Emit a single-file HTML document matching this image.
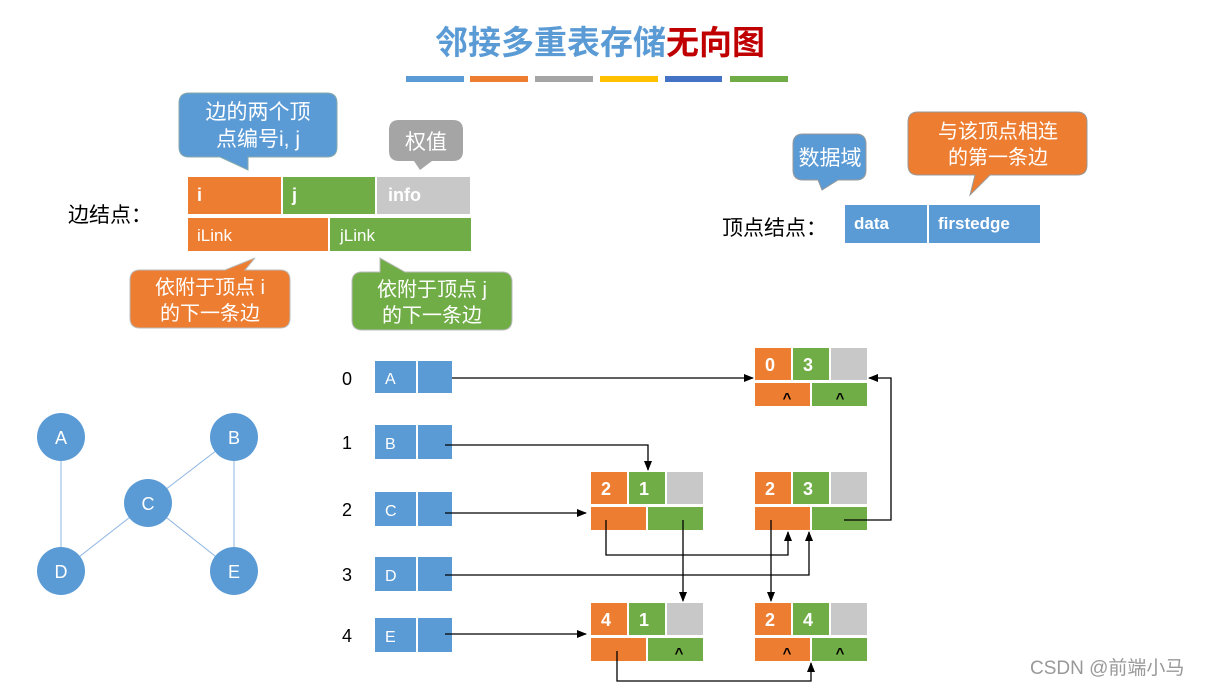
<!DOCTYPE html>
<html><head><meta charset="utf-8"><style>
html,body{margin:0;padding:0;background:#fff;}
svg{display:block;}
text{font-family:"Liberation Sans","Noto Sans CJK SC",sans-serif;}
</style></head><body>
<svg width="1211" height="687" viewBox="0 0 1211 687" xmlns="http://www.w3.org/2000/svg">
<defs>
<marker id="ar" markerWidth="10" markerHeight="10" refX="9" refY="5" orient="auto" markerUnits="userSpaceOnUse">
<path d="M0,1 L10,5 L0,9 z" fill="#000"/></marker>
</defs>
<!-- title -->
<text x="600" y="54" font-size="33" text-anchor="middle" font-weight="bold"><tspan fill="#5B9BD5">邻接多重表存储</tspan><tspan fill="#C00000">无向图</tspan></text>
<rect x="406" y="76" width="58" height="6" fill="#5B9BD5"/>
<rect x="470" y="76" width="58" height="6" fill="#ED7D31"/>
<rect x="535" y="76" width="58" height="6" fill="#A5A5A5"/>
<rect x="600" y="76" width="58" height="6" fill="#FFC000"/>
<rect x="665" y="76" width="57" height="6" fill="#4472C4"/>
<rect x="730" y="76" width="58" height="6" fill="#70AD47"/>

<!-- edge node description -->
<text x="68" y="222" font-size="21" fill="#000">边结点：</text>
<rect x="188" y="177" width="93" height="37" fill="#ED7D31"/>
<rect x="283" y="177" width="92" height="37" fill="#70AD47"/>
<rect x="377" y="177" width="93" height="37" fill="#C8C8C8"/>
<rect x="188" y="218" width="140" height="33" fill="#ED7D31"/>
<rect x="330" y="218" width="141" height="33" fill="#70AD47"/>
<text x="197" y="201" font-size="18" fill="#fff" font-weight="bold">i</text>
<text x="292" y="201" font-size="18" fill="#fff" font-weight="bold">j</text>
<text x="388" y="201" font-size="18" fill="#fff" font-weight="bold">info</text>
<text x="197" y="241" font-size="17" fill="#fff">iLink</text>
<text x="340" y="241" font-size="17" fill="#fff">jLink</text>

<!-- callouts -->
<path d="M189,93 H327 Q337,93 337,103 V147 Q337,157 327,157 H248 L248,170 L220,157 H189 Q179,157 179,147 V103 Q179,93 189,93 z" fill="#5B9BD5" stroke="#8aa" stroke-width="1"/>
<text x="258" y="119" font-size="21" fill="#fff" text-anchor="middle">边的两个顶</text>
<text x="258" y="146" font-size="21" fill="#fff" text-anchor="middle">点编号i, j</text>
<path d="M399,120 H453 Q463,120 463,130 V151 Q463,161 453,161 H432 L420,170 L414,161 H399 Q389,161 389,151 V130 Q389,120 399,120 z" fill="#A5A5A5"/>
<text x="426" y="149" font-size="21" fill="#fff" text-anchor="middle">权值</text>
<path d="M140,270 H225 L255,258 L245,270 H280 Q290,270 290,280 V318 Q290,328 280,328 H140 Q130,328 130,318 V280 Q130,270 140,270 z" fill="#ED7D31" stroke="#bbb" stroke-width="1"/>
<text x="210" y="294" font-size="20" fill="#fff" text-anchor="middle">依附于顶点 i</text>
<text x="210" y="320" font-size="20" fill="#fff" text-anchor="middle">的下一条边</text>
<path d="M362,272 H380 L380,258 L405,272 H502 Q512,272 512,282 V320 Q512,330 502,330 H362 Q352,330 352,320 V282 Q352,272 362,272 z" fill="#70AD47" stroke="#bbb" stroke-width="1"/>
<text x="432" y="296" font-size="20" fill="#fff" text-anchor="middle">依附于顶点 j</text>
<text x="432" y="322" font-size="20" fill="#fff" text-anchor="middle">的下一条边</text>

<!-- vertex node description -->
<text x="722" y="235" font-size="21" fill="#000">顶点结点：</text>
<rect x="845" y="205" width="82" height="38" fill="#5B9BD5"/>
<rect x="929" y="205" width="111" height="38" fill="#5B9BD5"/>
<text x="854" y="229" font-size="17" fill="#fff" font-weight="bold">data</text>
<text x="938" y="229" font-size="17" fill="#fff" font-weight="bold">firstedge</text>
<path d="M803,134 H856 Q866,134 866,144 V170 Q866,180 856,180 H838 L822,190 L818,180 H803 Q793,180 793,170 V144 Q793,134 803,134 z" fill="#5B9BD5" stroke="#999" stroke-width="1"/>
<text x="830" y="165" font-size="21" fill="#fff" text-anchor="middle">数据域</text>
<path d="M918,112 H1077 Q1087,112 1087,122 V165 Q1087,175 1077,175 H990 L970,195 L975,175 H918 Q908,175 908,165 V122 Q908,112 918,112 z" fill="#ED7D31" stroke="#999" stroke-width="1"/>
<text x="998" y="138" font-size="20" fill="#fff" text-anchor="middle">与该顶点相连</text>
<text x="998" y="164" font-size="20" fill="#fff" text-anchor="middle">的第一条边</text>

<!-- graph -->
<g stroke="#8DB4E2" stroke-width="1">
<line x1="61" y1="437" x2="61" y2="571"/>
<line x1="234" y1="437" x2="234" y2="571"/>
<line x1="234" y1="437" x2="148" y2="503"/>
<line x1="148" y1="503" x2="61" y2="571"/>
<line x1="148" y1="503" x2="234" y2="571"/>
</g>
<g fill="#5B9BD5">
<circle cx="61" cy="437" r="24"/><circle cx="234" cy="437" r="24"/>
<circle cx="148" cy="503" r="24"/><circle cx="61" cy="571" r="24"/><circle cx="234" cy="571" r="24"/>
</g>
<g font-size="18" fill="#fff" text-anchor="middle">
<text x="61" y="444">A</text><text x="234" y="444">B</text><text x="148" y="510">C</text><text x="61" y="578">D</text><text x="234" y="578">E</text>
</g>

<!-- vertex list -->
<g font-size="18" fill="#000">
<text x="342" y="385">0</text><text x="342" y="449">1</text><text x="342" y="516">2</text><text x="342" y="581">3</text><text x="342" y="642">4</text>
</g>
<g fill="#5B9BD5">
<rect x="375" y="361" width="41" height="32"/><rect x="418" y="361" width="34" height="32"/>
<rect x="375" y="425" width="41" height="34"/><rect x="418" y="425" width="34" height="34"/>
<rect x="375" y="492" width="41" height="34"/><rect x="418" y="492" width="34" height="34"/>
<rect x="375" y="557" width="41" height="34"/><rect x="418" y="557" width="34" height="34"/>
<rect x="375" y="618" width="41" height="34"/><rect x="418" y="618" width="34" height="34"/>
</g>
<g font-size="16" fill="#fff">
<text x="385" y="384">A</text><text x="385" y="449">B</text><text x="385" y="516">C</text><text x="385" y="581">D</text><text x="385" y="642">E</text>
</g>

<!-- edge nodes -->
<g id="n03">
<rect x="755" y="348" width="36" height="32" fill="#ED7D31"/><rect x="793" y="348" width="36" height="32" fill="#70AD47"/><rect x="831" y="348" width="36" height="32" fill="#C8C8C8"/>
<rect x="755" y="383" width="55" height="23" fill="#ED7D31"/><rect x="812" y="383" width="55" height="23" fill="#70AD47"/>
</g>
<rect x="591" y="472" width="36" height="32" fill="#ED7D31"/><rect x="629" y="472" width="36" height="32" fill="#70AD47"/><rect x="667" y="472" width="36" height="32" fill="#C8C8C8"/>
<rect x="591" y="507" width="55" height="23" fill="#ED7D31"/><rect x="648" y="507" width="55" height="23" fill="#70AD47"/>
<rect x="755" y="472" width="36" height="32" fill="#ED7D31"/><rect x="793" y="472" width="36" height="32" fill="#70AD47"/><rect x="831" y="472" width="36" height="32" fill="#C8C8C8"/>
<rect x="755" y="507" width="55" height="23" fill="#ED7D31"/><rect x="812" y="507" width="55" height="23" fill="#70AD47"/>
<rect x="591" y="603" width="36" height="32" fill="#ED7D31"/><rect x="629" y="603" width="36" height="32" fill="#70AD47"/><rect x="667" y="603" width="36" height="32" fill="#C8C8C8"/>
<rect x="591" y="638" width="55" height="23" fill="#ED7D31"/><rect x="648" y="638" width="55" height="23" fill="#70AD47"/>
<rect x="755" y="603" width="36" height="32" fill="#ED7D31"/><rect x="793" y="603" width="36" height="32" fill="#70AD47"/><rect x="831" y="603" width="36" height="32" fill="#C8C8C8"/>
<rect x="755" y="638" width="55" height="23" fill="#ED7D31"/><rect x="812" y="638" width="55" height="23" fill="#70AD47"/>
<g font-size="18" font-weight="bold" fill="#fff" text-anchor="middle">
<text x="770" y="371">0</text><text x="808" y="371">3</text>
<text x="606" y="495">2</text><text x="644" y="495">1</text>
<text x="770" y="495">2</text><text x="808" y="495">3</text>
<text x="606" y="626">4</text><text x="644" y="626">1</text>
<text x="770" y="626">2</text><text x="808" y="626">4</text>
</g>
<g font-size="15" font-weight="bold" fill="#000" text-anchor="middle">
<text x="787" y="403">^</text><text x="840" y="403">^</text>
<text x="679" y="658">^</text>
<text x="787" y="658">^</text><text x="840" y="658">^</text>
</g>

<!-- connectors -->
<g stroke="#000" stroke-width="1.3" fill="none">
<path d="M452,378 H753" marker-end="url(#ar)"/>
<path d="M445,445 H648 V470" marker-end="url(#ar)"/>
<path d="M445,513 H586" marker-end="url(#ar)"/>
<path d="M445,575 H809 V532" marker-end="url(#ar)"/>
<path d="M445,634 H586" marker-end="url(#ar)"/>
<path d="M606,520 V555 H788 V532" marker-end="url(#ar)"/>
<path d="M683,520 V601" marker-end="url(#ar)"/>
<path d="M771,520 V601" marker-end="url(#ar)"/>
<path d="M844,520 H891 V378 H869" marker-end="url(#ar)"/>
<path d="M617,651 V681 H811 V663" marker-end="url(#ar)"/>
</g>

<text x="1030" y="674" font-size="19" fill="#999">CSDN @前端小马</text>
</svg>
</body></html>
